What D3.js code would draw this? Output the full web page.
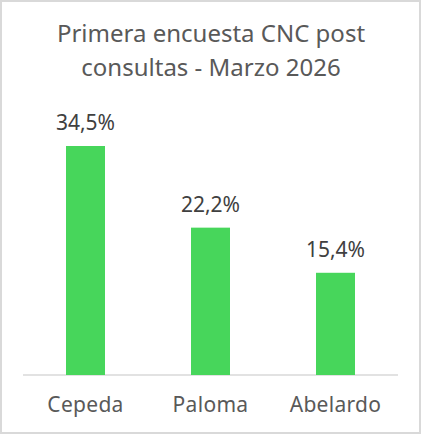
<!DOCTYPE html>
<html>
<head>
<meta charset="utf-8">
<script src="https://cdn.jsdelivr.net/npm/d3@7"></script>
<style>
  html, body { margin: 0; padding: 0; background: #fff; }
  svg { display: block; }
</style>
</head>
<body>
<div class="chart"></div>
<script>
const candidates = ['Cepeda', 'Paloma', 'Abelardo']
const percents = [34.5, 22.2, 15.4]
const titleLines = ['Primera encuesta CNC post', 'consultas - Marzo 2026']

// SETUP
// ----------------------------
const fullWidth = 422
const fullHeight = 434
const margin = { top: 109.5, bottom: 59, left: 23, right: 24 }
const width = fullWidth - margin.left - margin.right
const height = fullHeight - margin.top - margin.bottom
const font = 'Noto Sans, sans-serif'

const root = d3.select('.chart')
  .append('svg')
    .attr('width', fullWidth)
    .attr('height', fullHeight)

// chart border
root.append('rect')
  .attr('x', 1)
  .attr('y', 1)
  .attr('width', fullWidth - 3)
  .attr('height', fullHeight - 2)
  .attr('fill', '#fff')
  .attr('stroke', '#d9d9d9')
  .attr('stroke-width', 2)

// title
root.append('text')
  .attr('x', fullWidth / 2)
  .attr('text-anchor', 'middle')
  .style('font-family', font)
  .style('font-size', '24px')
  .style('fill', '#595959')
  .selectAll('tspan')
  .data(titleLines)
  .enter()
  .append('tspan')
    .attr('x', fullWidth / 2)
    .attr('y', (d, i) => 42 + i * 34)
    .text(d => d)

const svg = root.append('g')
  .attr('transform', `translate(${margin.left}, ${margin.top})`)
// ----------------------------

// SCALES
const xScale = d3.scaleBand()
  .domain(candidates)
  .range([0, width])
  .paddingInner(0.688)
  .paddingOuter(0.344)

const yScale = d3.scaleLinear()
  .domain([0, 40])
  .range([height, 0])

// X AXIS
const xAxis = d3.axisBottom(xScale)
  .tickSize(0)
  .tickPadding(22)
const gx = svg.append('g')
  .attr('transform', `translate(0, ${height})`)
  .call(xAxis)
gx.select('.domain')
  .attr('d', `M0,0H${width}`)
  .attr('stroke', '#d9d9d9')
  .attr('stroke-width', 1.5)
gx.selectAll('text')
  .style('font-family', font)
  .style('font-size', '21px')
  .style('letter-spacing', '0.3px')
  .style('fill', '#595959')
  .attr('dy', '0.71em')

// BARS
const data = candidates.map((c, i) => ({ name: c, value: percents[i] }))
svg.selectAll('rect.bar')
  .data(data)
  .enter()
  .append('rect')
  .attr('class', 'bar')
  .attr('x', d => xScale(d.name))
  .attr('y', d => yScale(d.value))
  .attr('width', xScale.bandwidth())
  .attr('height', d => height - yScale(d.value))
  .style('fill', '#47d65b')

// LABELS
svg.selectAll('text.label')
  .data(data)
  .enter()
  .append('text')
  .attr('class', 'label')
  .attr('x', d => xScale(d.name) + xScale.bandwidth() / 2)
  .attr('y', d => yScale(d.value) - 16)
  .attr('text-anchor', 'middle')
  .style('font-family', font)
  .style('font-size', '21px')
  .style('fill', '#404040')
  .text(d => d3.format('.1f')(d.value).replace('.', ',') + '%')
</script>
</body>
</html>
